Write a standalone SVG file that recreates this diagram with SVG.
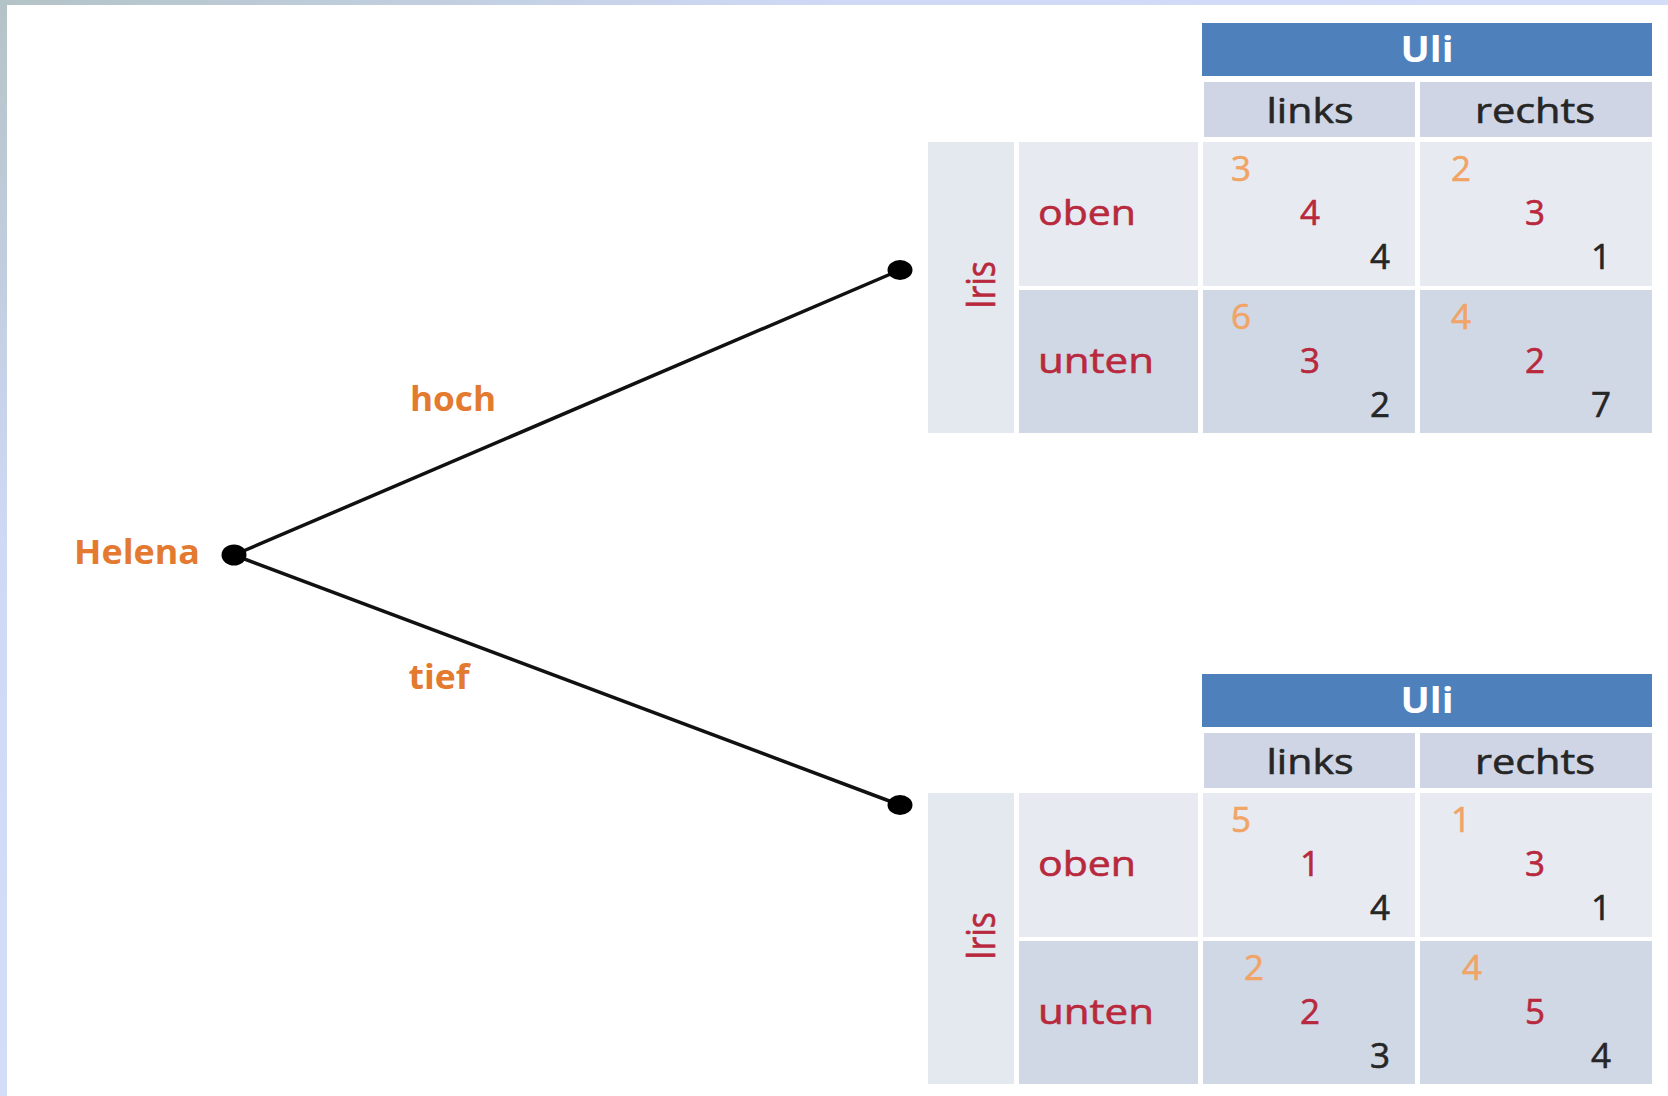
<svg xmlns="http://www.w3.org/2000/svg" width="1668" height="1096" viewBox="0 0 1668 1096">
<defs>
<linearGradient id="bg" x1="0" y1="0" x2="1" y2="1" gradientUnits="objectBoundingBox">
<stop offset="0" stop-color="#b4c3c7"/>
<stop offset="0.25" stop-color="#cfd9f6"/>
<stop offset="1" stop-color="#dde5fc"/>
</linearGradient>
<style>
.lbl{font-family:"Open Sans","DejaVu Sans",sans-serif;font-size:35px;stroke-width:0.6px;}
.bold{font-family:"Open Sans","DejaVu Sans",sans-serif;font-size:34px;font-weight:bold;fill:#e37a30;}
.hdr{fill:#4e80bc;}
.sub{fill:#cfd5e4;}
.r1{fill:#e7ebf1;}
.r2{fill:#d0d7e5;}
.side{fill:#e4e8ef;}
.white{fill:#ffffff;font-weight:bold;}
.dark{fill:#262626;stroke:#262626;}
.red{fill:#b8293d;stroke:#b8293d;}
.or{fill:#f0a466;stroke:#f0a466;}
.mid{text-anchor:middle;}
.edge{stroke:#111;stroke-width:3.5;fill:none;}
.dot{fill:#000;}
</style>
</defs>
<rect x="0" y="0" width="1668" height="1096" fill="url(#bg)"/>
<rect x="7" y="5" width="1661" height="1091" fill="#ffffff"/>

<g id="connectors">
<line class="edge" x1="234" y1="555" x2="900" y2="270"/>
<line class="edge" x1="234" y1="555" x2="900" y2="805"/>
<text class="bold mid" x="453" y="411" textLength="86" lengthAdjust="spacingAndGlyphs">hoch</text>
<text class="bold mid" x="439" y="689" textLength="61" lengthAdjust="spacingAndGlyphs">tief</text>
</g>

<g id="helena">
<text class="bold" x="74" y="564" textLength="126" lengthAdjust="spacingAndGlyphs">Helena</text>
<ellipse class="dot" cx="234" cy="555" rx="12.5" ry="10.5"/>
</g>

<g id="node-hoch">
<ellipse class="dot" cx="900" cy="270" rx="12.5" ry="10"/>
</g>
<g id="node-tief">
<ellipse class="dot" cx="900" cy="805" rx="12.5" ry="10"/>
</g>

<g id="table-hoch">
<rect class="hdr" x="1202" y="23" width="450" height="53"/>
<text class="lbl white mid" x="1427" y="62" textLength="53" lengthAdjust="spacingAndGlyphs">Uli</text>
<rect class="sub" x="1204" y="82" width="211" height="55"/>
<rect class="sub" x="1420" y="82" width="232" height="55"/>
<text class="lbl dark mid" x="1310" y="123" textLength="87" lengthAdjust="spacingAndGlyphs">links</text>
<text class="lbl dark mid" x="1535" y="123" textLength="120" lengthAdjust="spacingAndGlyphs">rechts</text>
<rect class="side" x="928" y="142" width="86" height="291"/>
<text class="lbl red mid" style="font-size:40px" transform="translate(995,285) rotate(-90)" textLength="48" lengthAdjust="spacingAndGlyphs">Iris</text>
<rect class="r1" x="1019" y="142" width="179" height="144"/>
<rect class="r2" x="1019" y="290" width="179" height="143"/>
<text class="lbl red" x="1038" y="225" textLength="98" lengthAdjust="spacingAndGlyphs">oben</text>
<text class="lbl red" x="1038" y="373" textLength="116" lengthAdjust="spacingAndGlyphs">unten</text>
<rect class="r1" x="1203" y="142" width="212" height="144"/>
<rect class="r1" x="1420" y="142" width="232" height="144"/>
<rect class="r2" x="1203" y="290" width="212" height="143"/>
<rect class="r2" x="1420" y="290" width="232" height="143"/>
<text class="lbl or mid" x="1241" y="181">3</text>
<text class="lbl red mid" x="1310" y="225">4</text>
<text class="lbl dark mid" x="1380" y="269">4</text>
<text class="lbl or mid" x="1461" y="181">2</text>
<text class="lbl red mid" x="1535" y="225">3</text>
<text class="lbl dark mid" x="1601" y="269">1</text>
<text class="lbl or mid" x="1241" y="329">6</text>
<text class="lbl red mid" x="1310" y="373">3</text>
<text class="lbl dark mid" x="1380" y="417">2</text>
<text class="lbl or mid" x="1461" y="329">4</text>
<text class="lbl red mid" x="1535" y="373">2</text>
<text class="lbl dark mid" x="1601" y="417">7</text>
</g>

<g id="table-tief">
<rect class="hdr" x="1202" y="674" width="450" height="53"/>
<text class="lbl white mid" x="1427" y="713" textLength="53" lengthAdjust="spacingAndGlyphs">Uli</text>
<rect class="sub" x="1204" y="733" width="211" height="55"/>
<rect class="sub" x="1420" y="733" width="232" height="55"/>
<text class="lbl dark mid" x="1310" y="774" textLength="87" lengthAdjust="spacingAndGlyphs">links</text>
<text class="lbl dark mid" x="1535" y="774" textLength="120" lengthAdjust="spacingAndGlyphs">rechts</text>
<rect class="side" x="928" y="793" width="86" height="291"/>
<text class="lbl red mid" style="font-size:40px" transform="translate(995,936) rotate(-90)" textLength="48" lengthAdjust="spacingAndGlyphs">Iris</text>
<rect class="r1" x="1019" y="793" width="179" height="144"/>
<rect class="r2" x="1019" y="941" width="179" height="143"/>
<text class="lbl red" x="1038" y="876" textLength="98" lengthAdjust="spacingAndGlyphs">oben</text>
<text class="lbl red" x="1038" y="1024" textLength="116" lengthAdjust="spacingAndGlyphs">unten</text>
<rect class="r1" x="1203" y="793" width="212" height="144"/>
<rect class="r1" x="1420" y="793" width="232" height="144"/>
<rect class="r2" x="1203" y="941" width="212" height="143"/>
<rect class="r2" x="1420" y="941" width="232" height="143"/>
<text class="lbl or mid" x="1241" y="832">5</text>
<text class="lbl red mid" x="1310" y="876">1</text>
<text class="lbl dark mid" x="1380" y="920">4</text>
<text class="lbl or mid" x="1461" y="832">1</text>
<text class="lbl red mid" x="1535" y="876">3</text>
<text class="lbl dark mid" x="1601" y="920">1</text>
<text class="lbl or mid" x="1254" y="980">2</text>
<text class="lbl red mid" x="1310" y="1024">2</text>
<text class="lbl dark mid" x="1380" y="1068">3</text>
<text class="lbl or mid" x="1472" y="980">4</text>
<text class="lbl red mid" x="1535" y="1024">5</text>
<text class="lbl dark mid" x="1601" y="1068">4</text>
</g>
</svg>
